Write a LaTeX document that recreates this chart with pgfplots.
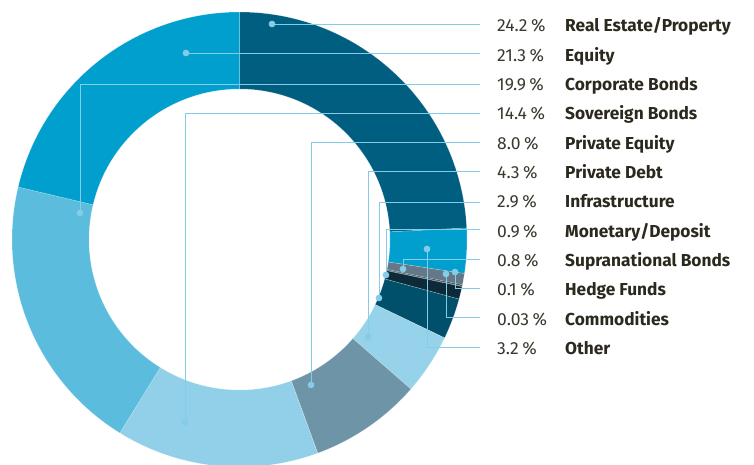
\documentclass[border=0pt]{standalone}
\usepackage{fontspec}
\setmainfont{Fira Sans}
\usepackage{pgfplots}
\usepackage{pgfplotstable}
\pgfplotsset{compat=1.18}
\definecolor{cRE}{HTML}{005E80}
\definecolor{cOther}{HTML}{009FCE}
\definecolor{cSupra}{HTML}{647887}
\definecolor{cHedge}{HTML}{2B4656}
\definecolor{cComm}{HTML}{1C3442}
\definecolor{cMon}{HTML}{0C2A38}
\definecolor{cInf}{HTML}{00506B}
\definecolor{cPD}{HTML}{96D2E9}
\definecolor{cPE}{HTML}{6E94A8}
\definecolor{cSov}{HTML}{91D0E8}
\definecolor{cCorp}{HTML}{5BBCDE}
\definecolor{cEq}{HTML}{009FCE}
\definecolor{cLead}{HTML}{84CCE8}
\definecolor{cNum}{HTML}{3A382E}
\definecolor{cTxt}{HTML}{2B281E}
\pgfplotstableread[col sep=comma]{
name,pct,col
Real Estate/Property,24.2,cRE
Other,3.2,cOther
Supranational Bonds,0.8,cSupra
Hedge Funds,0.1,cHedge
Commodities,0.03,cComm
Monetary/Deposit,0.9,cMon
Infrastructure,2.9,cInf
Private Debt,4.3,cPD
Private Equity,8.0,cPE
Sovereign Bonds,14.4,cSov
Corporate Bonds,19.9,cCorp
Equity,21.3,cEq
}\slices
\newcommand\row[3]{%
  \node[anchor=base west,text=cNum,inner sep=0pt,font=\fontsize{17.5}{20}\selectfont] at (axis cs:497,#1) {#2\hspace{3.5pt}\%};
  \node[anchor=base west,text=cTxt,inner sep=0pt,font=\fontsize{17.3}{20}\selectfont\bfseries] at (axis cs:565,#1) {#3};}
\begin{document}
\begin{tikzpicture}
\useasboundingbox (0,0) rectangle (754pt,464pt);
\begin{axis}[at={(0,0)},anchor=south west,x=1pt,y=1pt,
  xmin=0,xmax=754,ymin=0,ymax=464,y dir=reverse,hide axis,clip=true,
  leader/.style={cLead,line width=1pt,mark=*,mark size=2.8pt,
    mark options={fill=cLead,draw=none}}]
\def\cum{0}
\pgfplotsforeachungrouped \i in {0,...,11}{%
  \pgfplotstablegetelem{\i}{pct}\of\slices \let\slp\pgfplotsretval
  \pgfplotstablegetelem{\i}{col}\of\slices \let\slcol\pgfplotsretval
  \pgfmathsetmacro\angA{90-3.59892*\cum}%
  \pgfmathsetmacro\cum{\cum+\slp}%
  \pgfmathsetmacro\angB{90-3.59892*\cum}%
  \edef\temp{\noexpand\fill[fill=\slcol,draw=white,draw opacity=0.35,line width=0.5pt]
    ([shift={(\angA:227.5pt)}]axis cs:239.5,239.5) arc[start angle=\angA,end angle=\angB,radius=227.5pt]
    -- ([shift={(\angB:150.5pt)}]axis cs:239.5,239.5) arc[start angle=\angB,end angle=\angA,radius=150.5pt] -- cycle;}%
  \temp
}
\addplot[leader,mark indices={2}] coordinates {(480,24) (272,24)};
\addplot[leader,mark indices={2}] coordinates {(480,53) (186,53)};
\addplot[leader,mark indices={3}] coordinates {(480,84) (80,84) (80,213)};
\addplot[leader,mark indices={3}] coordinates {(480,113) (185,113) (185,422)};
\addplot[leader,mark indices={3}] coordinates {(480,142) (311,142) (311,385)};
\addplot[leader,mark indices={3}] coordinates {(480,171) (368,171) (368,337)};
\addplot[leader,mark indices={3}] coordinates {(480,202) (379,202) (379,298)};
\addplot[leader,mark indices={3}] coordinates {(480,229) (386,229) (386,275)};
\addplot[leader,mark indices={3}] coordinates {(480,259) (403,259) (403,269)};
\addplot[leader,mark indices={3}] coordinates {(480,288) (455,288) (455,272)};
\addplot[leader,mark indices={3}] coordinates {(480,317) (446,317) (446,274)};
\addplot[leader,mark indices={3}] coordinates {(480,347) (427,347) (427,249)};
\row{31.7}{24.2}{Real Estate/Property}
\row{61}{21.3}{Equity}
\row{90.7}{19.9}{Corporate Bonds}
\row{119.5}{14.4}{Sovereign Bonds}
\row{149.5}{8.0}{Private Equity}
\row{178.5}{4.3}{Private Debt}
\row{207.5}{2.9}{Infrastructure}
\row{237.3}{0.9}{Monetary/Deposit}
\row{266.7}{0.8}{Supranational Bonds}
\row{295.5}{0.1}{Hedge Funds}
\row{325}{0.03}{Commodities}
\row{354}{3.2}{Other}
\end{axis}
\end{tikzpicture}
\end{document}
